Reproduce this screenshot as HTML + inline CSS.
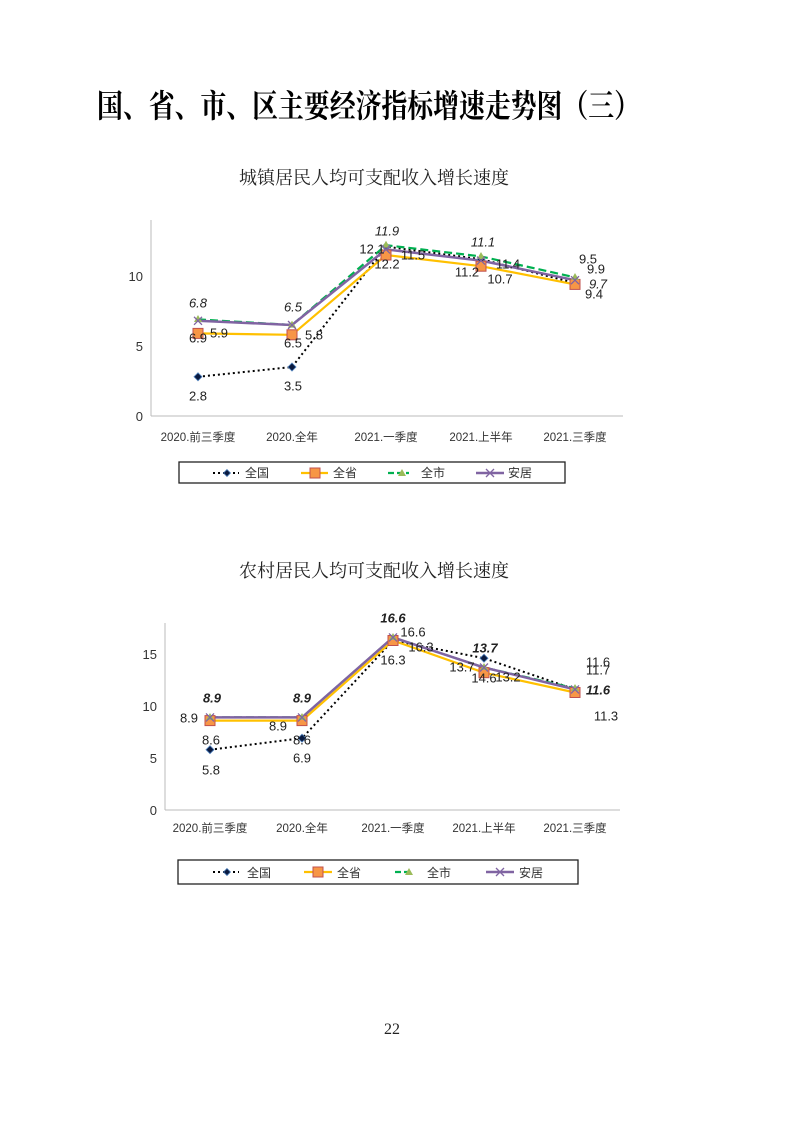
<!DOCTYPE html>
<html><head><meta charset="utf-8"><style>
html,body{margin:0;padding:0;background:#fff;}
svg{display:block;}
text{font-family:"Liberation Sans","Noto Sans CJK SC",sans-serif;}
.serif{font-family:"Liberation Serif","Noto Serif CJK SC",serif;}
.t{font-size:13px;fill:#222;}
.tick{font-size:13px;fill:#333;}
.cat{font-size:11.5px;fill:#333;}
.lg{font-size:12px;fill:#333;}
</style></head><body>
<svg width="793" height="1122" viewBox="0 0 793 1122" xmlns="http://www.w3.org/2000/svg">
<text class="serif" x="97" y="117" font-size="32" font-weight="bold" fill="#000" textLength="543" lengthAdjust="spacingAndGlyphs">国、省、市、区主要经济指标增速走势图（三）</text>
<text class="serif" x="374" y="184" text-anchor="middle" font-size="18" fill="#222">城镇居民人均可支配收入增长速度</text>

<!-- chart 1 -->
<g>
<line x1="151" y1="220" x2="151" y2="416" stroke="#bbb"/>
<line x1="151" y1="416" x2="623" y2="416" stroke="#bbb"/>
<text class="tick" x="143" y="421" text-anchor="end">0</text>
<text class="tick" x="143" y="351" text-anchor="end">5</text>
<text class="tick" x="143" y="281" text-anchor="end">10</text>
<g class="cat" text-anchor="middle">
<text x="198" y="441">2020.前三季度</text><text x="292" y="441">2020.全年</text><text x="386" y="441">2021.一季度</text><text x="481" y="441">2021.上半年</text><text x="575" y="441">2021.三季度</text></g>
<polyline points="198,376.8 292,367 386,246.6 481,259.2 575,283" fill="none" stroke="#000" stroke-width="2" stroke-dasharray="2,3"/>
<polyline points="198,333.4 292,334.8 386,255 481,266.2 575,284.4" fill="none" stroke="#FFC000" stroke-width="2.2"/>
<polyline points="198,319.4 292,325 386,245.2 481,256.4 575,277.4" fill="none" stroke="#00B050" stroke-width="2.2" stroke-dasharray="8,4"/>
<polyline points="198,320.8 292,325 386,249.4 481,260.6 575,280.2" fill="none" stroke="#8064A2" stroke-width="2.5"/>
<g fill="#0a1a40" stroke="#4F81BD" stroke-width="0.8">
<path d="M198,372.8 l4,4 -4,4 -4,-4z"/><path d="M292,363 l4,4 -4,4 -4,-4z"/><path d="M386,242.6 l4,4 -4,4 -4,-4z"/><path d="M481,255.2 l4,4 -4,4 -4,-4z"/><path d="M575,279 l4,4 -4,4 -4,-4z"/></g>
<g fill="#F79646" stroke="#C0504D" stroke-width="1">
<rect x="193" y="328.4" width="10" height="10"/><rect x="287" y="329.8" width="10" height="10"/><rect x="381" y="250" width="10" height="10"/><rect x="476" y="261.2" width="10" height="10"/><rect x="570" y="279.4" width="10" height="10"/></g>
<g fill="#9BBB59"><path d="M198,315 l4,7 h-8z"/><path d="M292,320.6 l4,7 h-8z"/><path d="M386,240.8 l4,7 h-8z"/><path d="M481,252 l4,7 h-8z"/><path d="M575,273 l4,7 h-8z"/></g>
<g stroke="#8064A2" stroke-width="1.3"><path d="M194,316.8 l8,8 M202,316.8 l-8,8"/><path d="M288,321 l8,8 M296,321 l-8,8"/><path d="M382,245.4 l8,8 M390,245.4 l-8,8"/><path d="M477,256.6 l8,8 M485,256.6 l-8,8"/><path d="M571,276.2 l8,8 M579,276.2 l-8,8"/></g>
<g class="t" text-anchor="middle" dominant-baseline="middle">
<text x="387" y="232" font-style="italic">11.9</text><text x="372" y="250">12.1</text><text x="413" y="256">11.5</text><text x="387" y="265">12.2</text>
<text x="483" y="243" font-style="italic">11.1</text><text x="508" y="265">11.4</text><text x="467" y="273">11.2</text><text x="500" y="280">10.7</text>
<text x="588" y="260">9.5</text><text x="596" y="270">9.9</text><text x="598" y="285" font-style="italic">9.7</text><text x="594" y="295">9.4</text>
<text x="198" y="304" font-style="italic">6.8</text><text x="198" y="339">6.9</text><text x="219" y="334">5.9</text>
<text x="293" y="308" font-style="italic">6.5</text><text x="293" y="344">6.5</text><text x="314" y="336">5.8</text>
<text x="198" y="397">2.8</text><text x="293" y="387">3.5</text></g>
<rect x="179" y="462" width="386" height="21" fill="none" stroke="#222" stroke-width="1.3"/>
<line x1="213" y1="473" x2="239" y2="473" stroke="#000" stroke-width="2" stroke-dasharray="2,3"/><path d="M227,469.5 l3.5,3.5 -3.5,3.5 -3.5,-3.5z" fill="#0a1a40" stroke="#4F81BD" stroke-width="0.8"/><text class="lg" x="245" y="477">全国</text>
<line x1="301" y1="473" x2="328" y2="473" stroke="#FFC000" stroke-width="2.2"/><rect x="310" y="468" width="10" height="10" fill="#F79646" stroke="#C0504D"/><text class="lg" x="333" y="477">全省</text>
<line x1="388" y1="473" x2="409" y2="473" stroke="#00B050" stroke-width="2.2" stroke-dasharray="6,3"/><path d="M402,469 l4,7 h-8z" fill="#9BBB59"/><text class="lg" x="421" y="477">全市</text>
<line x1="476" y1="473" x2="504" y2="473" stroke="#8064A2" stroke-width="2.5"/><path d="M486,469 l8,8 M494,469 l-8,8" stroke="#8064A2" stroke-width="1.3"/><text class="lg" x="508" y="477">安居</text>
</g>

<text class="serif" x="374" y="577" text-anchor="middle" font-size="18" fill="#222">农村居民人均可支配收入增长速度</text>

<!-- chart 2 -->
<g>
<line x1="165" y1="623" x2="165" y2="810" stroke="#bbb"/>
<line x1="165" y1="810" x2="620" y2="810" stroke="#bbb"/>
<text class="tick" x="157" y="815" text-anchor="end">0</text>
<text class="tick" x="157" y="763" text-anchor="end">5</text>
<text class="tick" x="157" y="711" text-anchor="end">10</text>
<text class="tick" x="157" y="659" text-anchor="end">15</text>
<g class="cat" text-anchor="middle">
<text x="210" y="832">2020.前三季度</text><text x="302" y="832">2020.全年</text><text x="393" y="832">2021.一季度</text><text x="484" y="832">2021.上半年</text><text x="575" y="832">2021.三季度</text></g>
<polyline points="210,749.7 302,738.2 393,640.5 484,658.2 575,689.4" fill="none" stroke="#000" stroke-width="2" stroke-dasharray="2,3"/>
<polyline points="210,720.6 302,720.6 393,640.5 484,672.7 575,692.5" fill="none" stroke="#FFC000" stroke-width="2.2"/>
<polyline points="210,717.4 302,717.4 393,637.4 484,667.5 575,688.3" fill="none" stroke="#00B050" stroke-width="2.2" stroke-dasharray="8,4"/>
<polyline points="210,717.4 302,717.4 393,637.4 484,667.5 575,689.4" fill="none" stroke="#8064A2" stroke-width="2.5"/>
<g fill="#0a1a40" stroke="#4F81BD" stroke-width="0.8">
<path d="M210,745.7 l4,4 -4,4 -4,-4z"/><path d="M302,734.2 l4,4 -4,4 -4,-4z"/><path d="M393,636.5 l4,4 -4,4 -4,-4z"/><path d="M484,654.2 l4,4 -4,4 -4,-4z"/><path d="M575,685.4 l4,4 -4,4 -4,-4z"/></g>
<g fill="#F79646" stroke="#C0504D" stroke-width="1">
<rect x="205" y="715.6" width="10" height="10"/><rect x="297" y="715.6" width="10" height="10"/><rect x="388" y="635.5" width="10" height="10"/><rect x="479" y="667.7" width="10" height="10"/><rect x="570" y="687.5" width="10" height="10"/></g>
<g fill="#9BBB59"><path d="M210,713 l4,7 h-8z"/><path d="M302,713 l4,7 h-8z"/><path d="M393,633 l4,7 h-8z"/><path d="M484,663 l4,7 h-8z"/><path d="M575,684 l4,7 h-8z"/></g>
<g stroke="#8064A2" stroke-width="1.3"><path d="M206,713.4 l8,8 M214,713.4 l-8,8"/><path d="M298,713.4 l8,8 M306,713.4 l-8,8"/><path d="M389,633.4 l8,8 M397,633.4 l-8,8"/><path d="M480,663.5 l8,8 M488,663.5 l-8,8"/><path d="M571,685.4 l8,8 M579,685.4 l-8,8"/></g>
<g class="t" text-anchor="middle" dominant-baseline="middle">
<text x="393" y="619" font-style="italic" font-weight="bold">16.6</text><text x="413" y="633">16.6</text><text x="421" y="648">16.3</text><text x="393" y="661">16.3</text>
<text x="485" y="649" font-style="italic" font-weight="bold">13.7</text><text x="462" y="668">13.7</text><text x="484" y="679">14.6</text><text x="508" y="678">13.2</text>
<text x="598" y="663">11.6</text><text x="598" y="671">11.7</text><text x="598" y="691" font-style="italic" font-weight="bold">11.6</text><text x="606" y="717">11.3</text>
<text x="212" y="699" font-style="italic" font-weight="bold">8.9</text><text x="302" y="699" font-style="italic" font-weight="bold">8.9</text>
<text x="189" y="719">8.9</text><text x="278" y="727">8.9</text><text x="211" y="741">8.6</text><text x="302" y="741">8.6</text>
<text x="211" y="771">5.8</text><text x="302" y="759">6.9</text></g>
<rect x="178" y="860" width="400" height="24" fill="none" stroke="#222" stroke-width="1.3"/>
<line x1="213" y1="872" x2="239" y2="872" stroke="#000" stroke-width="2" stroke-dasharray="2,3"/><path d="M227,868.5 l3.5,3.5 -3.5,3.5 -3.5,-3.5z" fill="#0a1a40" stroke="#4F81BD" stroke-width="0.8"/><text class="lg" x="247" y="877">全国</text>
<line x1="304" y1="872" x2="332" y2="872" stroke="#FFC000" stroke-width="2.2"/><rect x="313" y="867" width="10" height="10" fill="#F79646" stroke="#C0504D"/><text class="lg" x="337" y="877">全省</text>
<line x1="395" y1="872" x2="413" y2="872" stroke="#00B050" stroke-width="2.2" stroke-dasharray="6,3"/><path d="M409,868 l4,7 h-8z" fill="#9BBB59"/><text class="lg" x="427" y="877">全市</text>
<line x1="486" y1="872" x2="514" y2="872" stroke="#8064A2" stroke-width="2.5"/><path d="M496,868 l8,8 M504,868 l-8,8" stroke="#8064A2" stroke-width="1.3"/><text class="lg" x="519" y="877">安居</text>
</g>

<text class="serif" x="392" y="1034" text-anchor="middle" font-size="16" fill="#222">22</text>
</svg>
</body></html>
